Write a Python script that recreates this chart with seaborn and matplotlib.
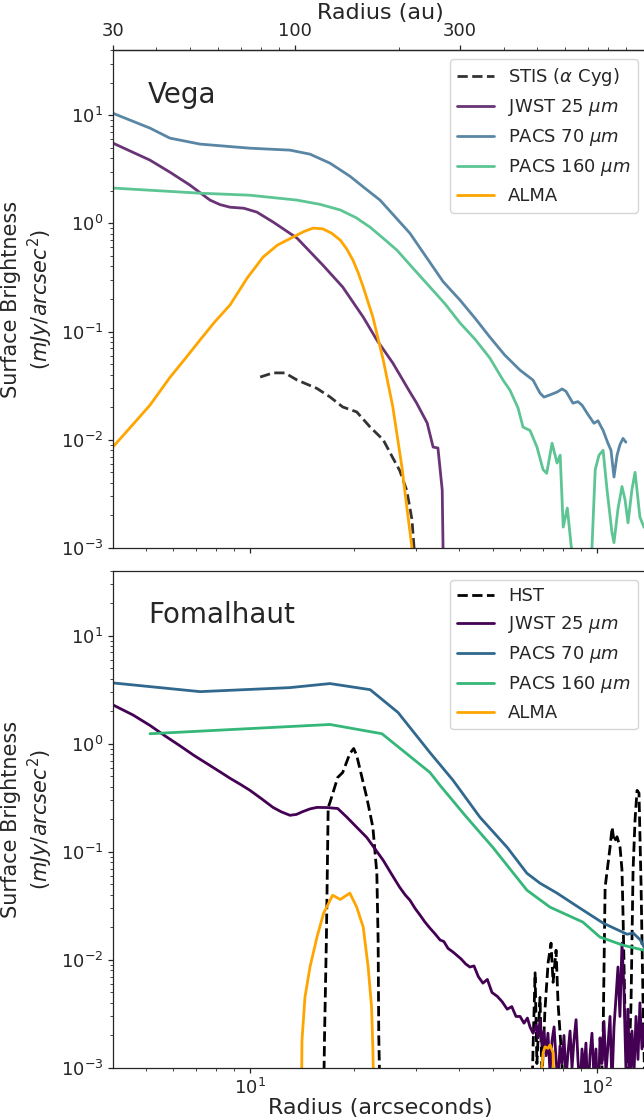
import matplotlib
matplotlib.use("Agg")
import matplotlib.pyplot as plt
from matplotlib.ticker import NullFormatter
import seaborn as sns

# distance used for the au axis (au per arcsec)
DIST_PC = 7.44

# ---------------- Vega (top panel) ----------------
vega_stis_r = [10.7, 11.65, 12.6, 13.66, 15.6, 17.0, 18.5, 20.3, 22.2, 24.2, 25.8, 27.0, 28.3, 29.3, 29.7, 30.2]
vega_stis_sb = [0.038, 0.0415, 0.0415, 0.0357, 0.0298, 0.0249, 0.0201, 0.0181, 0.0131, 0.0100, 0.0068,
                0.0052, 0.0034, 0.00182, 0.0010, 0.0002]

vega_jwst_r = [4.03, 5.15, 5.88, 6.71, 7.67, 8.2, 8.76, 9.6, 10.47, 11.65, 13.66, 16.22, 18.5, 21.2, 23.2,
               25.8, 28.9, 30.2, 32.4, 33.7, 34.8, 35.8, 36.0, 36.3]
vega_jwst_sb = [5.51, 3.84, 2.97, 2.26, 1.64, 1.49, 1.41, 1.38, 1.27, 1.03, 0.731, 0.411, 0.258, 0.136,
                0.0836, 0.0512, 0.0276, 0.0219, 0.0143, 0.00857, 0.00839, 0.00344, 0.0010, 0.0002]

vega_p70_r = [4.03, 5.15, 5.88, 7.18, 10.0, 13.04, 14.89, 17.0, 19.4, 21.4, 23.7, 28.9, 36.0, 40.3, 44.5,
              49.1, 54.2, 60.0, 65.4, 68.5, 70.3, 73.2, 76.7, 79.3, 81.4, 85.2, 88.1, 90.5, 94.2, 98.0,
              100.6, 104.1, 107.5, 109.7, 111.9, 114.2, 116.4, 118.8, 121.1]
vega_p70_sb = [10.4, 7.59, 6.13, 5.4, 4.95, 4.75, 4.36, 3.6, 2.73, 2.12, 1.64, 0.81, 0.29, 0.195, 0.133,
               0.089, 0.0607, 0.044, 0.0356, 0.027, 0.0248, 0.026, 0.0276, 0.0295, 0.028, 0.0218, 0.0225,
               0.0209, 0.0171, 0.0142, 0.0150, 0.0122, 0.0093, 0.0080, 0.00453, 0.0072, 0.0090, 0.0103, 0.0095]

vega_p160_r = [4.03, 7.18, 10.0, 13.66, 15.9, 18.2, 20.2, 22.2, 24.3, 26.5, 29.6, 33.0, 36.5, 40.3, 44.5,
               49.1, 53.6, 56.1, 59.2, 61.2, 64.1, 67.1, 69.9, 71.6, 74.2, 76.7, 78.3, 79.9, 82.1, 84.3,
               86.6, 95.4, 96.7, 98.8, 101.3, 104.1, 106.8, 110.4, 111.9, 114.9, 118.0, 120.4, 122.8,
               126.1, 128.7, 132.9, 136.5, 139.3]
vega_p160_sb = [2.12, 1.90, 1.82, 1.64, 1.50, 1.33, 1.13, 0.92, 0.72, 0.566, 0.38, 0.258, 0.18, 0.12, 0.085,
                0.057, 0.0356, 0.0288, 0.0197, 0.0131, 0.0122, 0.0086, 0.0053, 0.0049, 0.0093, 0.0061,
                0.0072, 0.00156, 0.00234, 0.00102, 0.0003, 0.0003, 0.00102, 0.0053, 0.0072, 0.0080,
                0.0035, 0.00139, 0.00112, 0.0023, 0.0037, 0.0028, 0.00171, 0.0035, 0.0050, 0.00193,
                0.00156, 0.0015]

vega_alma_r = [4.03, 4.51, 5.15, 5.88, 6.5, 7.18, 7.9, 8.76, 9.8, 10.9, 12.0, 13.3, 14.3, 15.2, 16.2, 17.2,
               18.2, 19.0, 19.8, 20.5, 21.2, 22.6, 24.2, 25.8, 27.4, 28.3, 29.3, 29.8]
vega_alma_sb = [0.0086, 0.0129, 0.0209, 0.0377, 0.056, 0.0836, 0.122, 0.176, 0.31, 0.487, 0.63, 0.746,
                0.84, 0.904, 0.89, 0.81, 0.70, 0.58, 0.457, 0.35, 0.258, 0.136, 0.055, 0.0201, 0.0056,
                0.0024, 0.0010, 0.0002]

# ---------------- Fomalhaut (bottom panel) ----------------
fom_hst_r = [16.3, 16.4, 16.6, 16.8, 17.0, 17.9, 18.5, 19.4, 19.9, 20.3, 21.7, 22.6, 23.2, 23.4, 23.5,
             23.7, 45.0, 64.1, 65.4, 66.3, 67.1, 68.5, 69.4, 70.8, 72.3, 73.7, 74.7, 76.2, 77.2, 78.8,
             80.8, 89.3, 102.0, 104.1, 105.5, 107.6, 109.0, 110.5, 112.0, 114.2, 116.5, 118.0, 118.8,
             120.4, 122.9, 125.3, 127.0, 128.7, 130.4, 132.1, 133.9, 135.7, 137.5]
fom_hst_sb = [0.0005, 0.002, 0.0153, 0.258, 0.287, 0.489, 0.543, 0.814, 0.905, 0.78, 0.319, 0.169,
              0.0634, 0.0153, 0.002, 0.0005, 0.00001, 0.0001, 0.0015, 0.0076, 0.0011, 0.0045, 0.0008,
              0.0035, 0.0095, 0.0143, 0.0062, 0.0123, 0.0040, 0.0015, 0.0004, 0.0001, 0.0003, 0.0020,
              0.047, 0.0785, 0.11, 0.169, 0.124, 0.138, 0.110, 0.068, 0.027, 0.003, 0.0006, 0.004,
              0.068, 0.2, 0.371, 0.35, 0.05, 0.004, 0.0005]

fom_jwst_r = [4.03, 4.6, 5.15, 5.7, 6.28, 6.9, 7.67, 8.2, 8.76, 9.4, 10.0, 10.8, 11.65, 12.3, 13.04, 13.6,
              14.2, 14.9, 15.6, 16.7, 17.9, 19.0, 20.3, 21.7, 23.0, 24.2, 25.6, 27.0, 28.0, 28.9, 29.9,
              30.9, 31.9, 33.0, 34.1, 35.3, 36.2, 37.2, 38.5, 39.5, 40.6, 41.8, 43.0, 44.2, 45.5, 46.9,
              48.3, 49.8, 51.6, 53.3, 55.1, 56.8, 58.4, 60.0, 61.6, 63.0, 64.1, 65.4,
              66.7, 67.6, 68.5, 69.4, 70.3, 71.3, 72.2, 73.2, 74.2, 75.2, 76.2, 77.2, 78.2, 79.3, 80.3,
              81.4, 82.5, 83.6, 84.7, 85.8, 87.0, 88.1, 89.3, 90.5, 91.7, 92.9, 94.2, 95.4, 96.7, 98.0,
              99.3, 100.6, 102.0, 103.3, 104.7, 106.1, 107.5, 109.0, 110.4, 111.9, 113.4, 114.9, 116.4,
              118.0, 119.5, 121.1, 122.8, 124.4, 126.1, 127.8, 129.5, 131.2, 132.9, 134.7, 136.5, 139.3]
fom_jwst_sb = [2.29, 1.85, 1.48, 1.18, 0.96, 0.78, 0.63, 0.55, 0.48, 0.42, 0.371, 0.31, 0.258, 0.235,
               0.218, 0.222, 0.236, 0.25, 0.258, 0.257, 0.252, 0.21, 0.169, 0.136, 0.105, 0.0836, 0.062,
               0.047, 0.040, 0.0357, 0.030, 0.026, 0.0225, 0.0197, 0.0175, 0.0153, 0.0148, 0.0128,
               0.0118, 0.0110, 0.0102, 0.0092, 0.0086, 0.0088, 0.0070, 0.0061, 0.0066, 0.0050, 0.0046,
               0.0041, 0.0035, 0.0037, 0.0030, 0.0030, 0.0026, 0.0029, 0.0024, 0.0021,
               0.0025, 0.0019, 0.0028, 0.0016, 0.0022, 0.0013, 0.0021, 0.0009, 0.0018, 0.0024, 0.0012,
               0.0007, 0.0016, 0.0011, 0.0020, 0.0008, 0.0014, 0.0022, 0.0010, 0.0018, 0.0028, 0.0012,
               0.0006, 0.0015, 0.0009, 0.0017, 0.0005, 0.0013, 0.0021, 0.0008, 0.0015, 0.0004, 0.0019,
               0.0011, 0.0027, 0.0009, 0.0016, 0.0030, 0.0007, 0.0024, 0.0045, 0.0086, 0.0030, 0.0143,
               0.0055, 0.0010, 0.0035, 0.0006, 0.0022, 0.0009, 0.0030, 0.0012, 0.0040, 0.0015, 0.0025,
               0.0012]

fom_p70_r = [4.03, 7.18, 13.0, 17.0, 22.2, 26.7, 33.0, 38.5, 46.0, 55.1, 62.8, 68.5, 76.7, 89.2, 104.2,
             122.0, 127.2, 133.3, 136.5, 139.3]
fom_p70_sb = [3.66, 3.04, 3.31, 3.61, 3.17, 1.95, 0.83, 0.458, 0.209, 0.110, 0.0634, 0.0513, 0.0415,
              0.0302, 0.0219, 0.0173, 0.0177, 0.0153, 0.0132, 0.012]

fom_p160_r = [5.15, 17.0, 24.0, 33.0, 35.3, 42.1, 50.1, 62.8, 73.2, 91.0, 101.9, 118.7, 136.5, 139.3]
fom_p160_sb = [1.24, 1.51, 1.24, 0.543, 0.412, 0.209, 0.110, 0.0442, 0.0308, 0.0224, 0.0163, 0.0137,
               0.0123, 0.012]

fom_alma_r = [14.07, 14.12, 14.40, 14.89, 15.6, 16.3, 17.3, 18.2, 19.4, 20.3, 21.2, 21.9, 22.4, 22.6,
              22.75, 45.0, 68.2, 69.9, 70.8, 72.3, 73.2, 74.7, 75.2, 100.0]
fom_alma_sb = [0.0005, 0.0018, 0.0045, 0.0086, 0.0163, 0.0271, 0.0397, 0.0363, 0.0415, 0.0308, 0.0201,
               0.0086, 0.0037, 0.0015, 0.0005, 0.00001, 0.0005, 0.00138, 0.00157, 0.00152, 0.00164,
               0.00138, 0.0005, 0.00001]

sns.set_style("ticks")
plt.rcParams["font.family"] = ["DejaVu Sans"]
plt.rcParams["mathtext.fontset"] = "dejavusans"
plt.rcParams["axes.linewidth"] = 0.9

fig = plt.figure(figsize=(6.44, 11.19), dpi=100)
left, width = 113 / 644, 534 / 644
ax_top = fig.add_axes([left, 0.51028, width, 0.44504])
ax_bot = fig.add_axes([left, 0.04558, width, 0.44441], sharex=ax_top)

for ax in (ax_top, ax_bot):
    ax.set_xscale("log")
    ax.set_yscale("log")

lw = 2.0
# top panel (lighter tones)
sns.lineplot(x=vega_stis_r, y=vega_stis_sb, ax=ax_top, color="#333333", lw=lw, linestyle="--",
             label=r"STIS ($\alpha$ Cyg)")
sns.lineplot(x=vega_jwst_r, y=vega_jwst_sb, ax=ax_top, color="#693476", lw=lw, label=r"JWST 25 $\mu m$")
sns.lineplot(x=vega_p70_r, y=vega_p70_sb, ax=ax_top, color="#5a86a5", lw=lw, label=r"PACS 70 $\mu m$")
sns.lineplot(x=vega_p160_r, y=vega_p160_sb, ax=ax_top, color="#5dc594", lw=lw, label=r"PACS 160 $\mu m$")
sns.lineplot(x=vega_alma_r, y=vega_alma_sb, ax=ax_top, color="#ffa500", lw=lw, label="ALMA")

# bottom panel
sns.lineplot(x=fom_hst_r, y=fom_hst_sb, ax=ax_bot, color="black", lw=lw, linestyle="--", label="HST")
sns.lineplot(x=fom_jwst_r, y=fom_jwst_sb, ax=ax_bot, color="#440154", lw=lw, label=r"JWST 25 $\mu m$")
sns.lineplot(x=fom_p70_r, y=fom_p70_sb, ax=ax_bot, color="#31688e", lw=lw, label=r"PACS 70 $\mu m$")
sns.lineplot(x=fom_p160_r, y=fom_p160_sb, ax=ax_bot, color="#35b779", lw=lw, label=r"PACS 160 $\mu m$")
sns.lineplot(x=fom_alma_r, y=fom_alma_sb, ax=ax_bot, color="#ffa500", lw=lw, label="ALMA")

ylabel = "Surface Brightness\n($mJy/arcsec^2$)"
for ax, name in ((ax_top, "Vega"), (ax_bot, "Fomalhaut")):
    ax.set_xlim(4.03, 139.3)
    ax.set_ylim(1e-3, 40)
    ax.set_ylabel(ylabel, fontsize=15)
    ax.tick_params(which="major", length=3.5, width=0.9, labelsize=13, colors=".15")
    ax.tick_params(which="minor", length=2, width=0.6, colors=".15")
    ax.xaxis.set_minor_formatter(NullFormatter())
    ax.text(0.066, 0.91, name, transform=ax.transAxes, fontsize=20, va="center", ha="left")
    ax.legend(loc="upper right", fontsize=13, frameon=True)
    ax.spines["right"].set_visible(False)

ax_top.tick_params(axis="x", labelbottom=False)
ax_top.set_xlabel("")
ax_bot.set_xlabel("Radius (arcseconds)", fontsize=16, labelpad=0)

sec = ax_top.secondary_xaxis("top", functions=(lambda r: r * DIST_PC, lambda a: a / DIST_PC))
sec.set_xticks([30, 100, 300])
sec.set_xticklabels(["30", "100", "300"])
sec.xaxis.set_minor_formatter(NullFormatter())
sec.tick_params(which="major", length=3.5, width=0.9, labelsize=13, colors=".15")
sec.tick_params(which="minor", length=2, width=0.6, colors=".15")
sec.set_xlabel("Radius (au)", fontsize=16, labelpad=2)

fig.savefig("out.png", dpi=100)
